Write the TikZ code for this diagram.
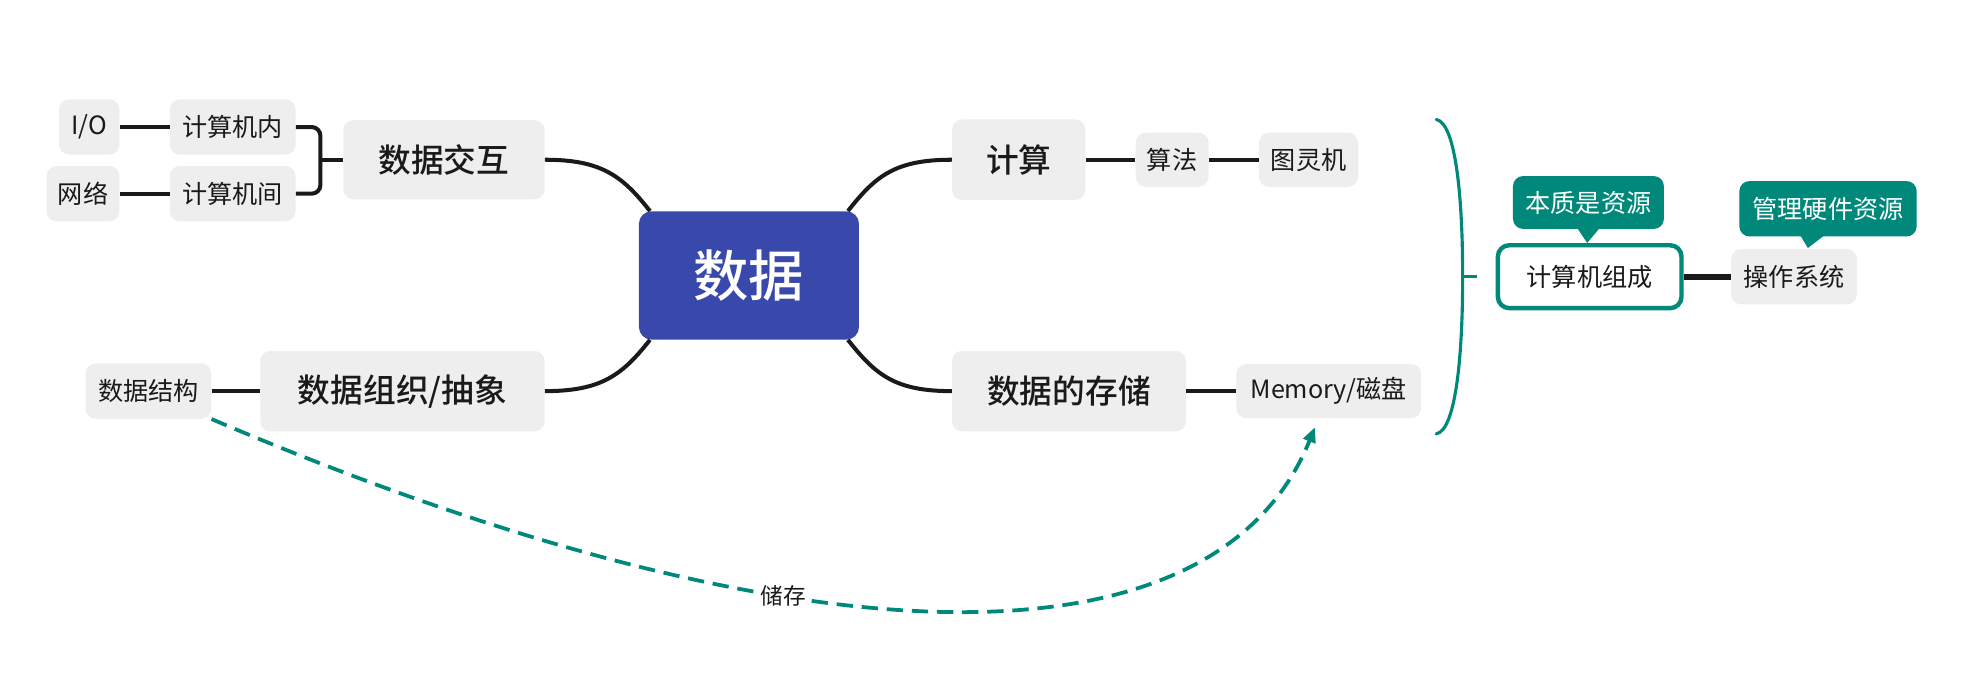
\documentclass[tikz,border=0pt]{standalone}
\usepackage{fontspec}
\setmainfont{Noto Sans CJK SC}
\newfontfamily\mediumfont{Noto Sans CJK SC Medium}
\usetikzlibrary{arrows.meta}
\definecolor{teal1}{HTML}{00897B}
\definecolor{indigo1}{HTML}{3949AB}
\definecolor{gray1}{HTML}{EEEEEE}
\definecolor{ink}{HTML}{1A1A1A}
\begin{document}
\begin{tikzpicture}[x=1pt,y=-1pt,
  box/.style={fill=gray1, rounded corners=8pt, inner sep=0pt, text=ink, align=center},
  small/.style={box, font=\fontsize{20}{24}\selectfont, minimum height=44pt},
  big/.style={box, font=\mediumfont\fontsize{26}{30}\selectfont, minimum height=64pt},
  conn/.style={draw=ink, line width=3.2pt},
  callout/.style={fill=teal1, rounded corners=8pt, text=white, inner sep=0pt, font=\fontsize{20}{24}\selectfont},
]
\useasboundingbox (0,0) rectangle (1568,544);

% nodes
\node[small, minimum width=48pt] (io) at (71,101) {I/O};
\node[small, minimum width=100pt] (jn) at (185,101) {计算机内};
\node[small, minimum width=58pt] (wl) at (66,154) {网络};
\node[small, minimum width=100pt] (jj) at (185,154) {计算机间};
\node[big, minimum width=160pt, minimum height=63pt] (jh) at (353,127) {数据交互};
\node[small, minimum width=100pt] (jg) at (118,311) {数据结构};
\node[big, minimum width=226pt] (zz) at (320,311) {数据组织/抽象};
\node[fill=indigo1, rounded corners=10pt, minimum width=175pt, minimum height=102pt, inner sep=0pt,
      text=white, font=\mediumfont\fontsize{44}{50}\selectfont] (ctr) at (595.5,219) {数据};
\node[big, minimum width=106pt] (js) at (810,127) {计算};
\node[small, minimum width=58pt, minimum height=43pt] (sf) at (932,127) {算法};
\node[small, minimum width=79pt, minimum height=43pt] (tl) at (1040.5,127) {图灵机};
\node[big, minimum width=186pt] (cc) at (850,311) {数据的存储};
\node[small, minimum width=147pt, minimum height=43pt] (mem) at (1056.5,311) {Memory/磁盘};
\node[draw=teal1, line width=3.5pt, fill=white, rounded corners=9pt, minimum width=146pt, minimum height=50pt,
      inner sep=0pt, font=\fontsize{20}{24}\selectfont, text=ink] (zc) at (1264,220) {计算机组成};
\node[small, minimum width=100pt] (os) at (1426.5,220) {操作系统};
\node[callout, minimum width=120pt, minimum height=42pt] (bz) at (1263,161) {本质是资源};
\node[callout, minimum width=141pt, minimum height=44pt] (gl) at (1453.5,166) {管理硬件资源};

% callout pointers
\fill[teal1] (bz.south) ++(-9,-1) -- ++(18,0) -- ++(-10,12) -- cycle;
\fill[teal1] (gl.south) ++(-22,-1) -- ++(19,0) -- ++(-13,10) -- cycle;

% curved connectors from centre
\draw[conn] (jh.east) .. controls +(45,0) and +(-22,-28) .. ([xshift=9pt]ctr.north west);
\draw[conn] (js.west) .. controls +(-45,0) and +(22,-28) .. ([xshift=-9pt]ctr.north east);
\draw[conn] (zz.east) .. controls +(45,0) and +(-22,28) .. ([xshift=9pt]ctr.south west);
\draw[conn] (cc.west) .. controls +(-45,0) and +(22,28) .. ([xshift=-9pt]ctr.south east);

% straight connectors
\draw[conn] (io.east) -- (jn.west);
\draw[conn] (wl.east) -- (jj.west);
\draw[conn] (js.east) -- (sf.west);
\draw[conn] (sf.east) -- (tl.west);
\draw[conn] (cc.east) -- (mem.west);
\draw[conn] (jg.east) -- (zz.west);
\draw[conn, rounded corners=7pt] (jn.east) -| ([xshift=-18pt]jh.west) |- (jj.east);
\draw[conn] (jh.west) -- ++(-18,0);
\draw[draw=ink, line width=4.5pt] (zc.east) -- (os.west);

% summary brace
\draw[teal1, line width=2.5pt, line cap=round]
  (1142,95) .. controls (1158,98) and (1163,160) .. (1163,220)
            .. controls (1163,280) and (1158,342) .. (1142,345);
\draw[teal1, line width=2.5pt] (1163,220) -- ([xshift=-15pt]zc.west);

% dashed relation
\draw[teal1, line width=3pt, dash pattern=on 13pt off 7pt, -{Triangle[length=12pt,width=10pt]}]
  (jg.south east) .. controls (642,535) and (967,535) .. ([xshift=-11pt,yshift=-7pt]mem.south)
  node[pos=0.365, fill=white, inner sep=2pt, text=ink, font=\fontsize{18}{22}\selectfont] (lbl) {储存};
\end{tikzpicture}
\end{document}
